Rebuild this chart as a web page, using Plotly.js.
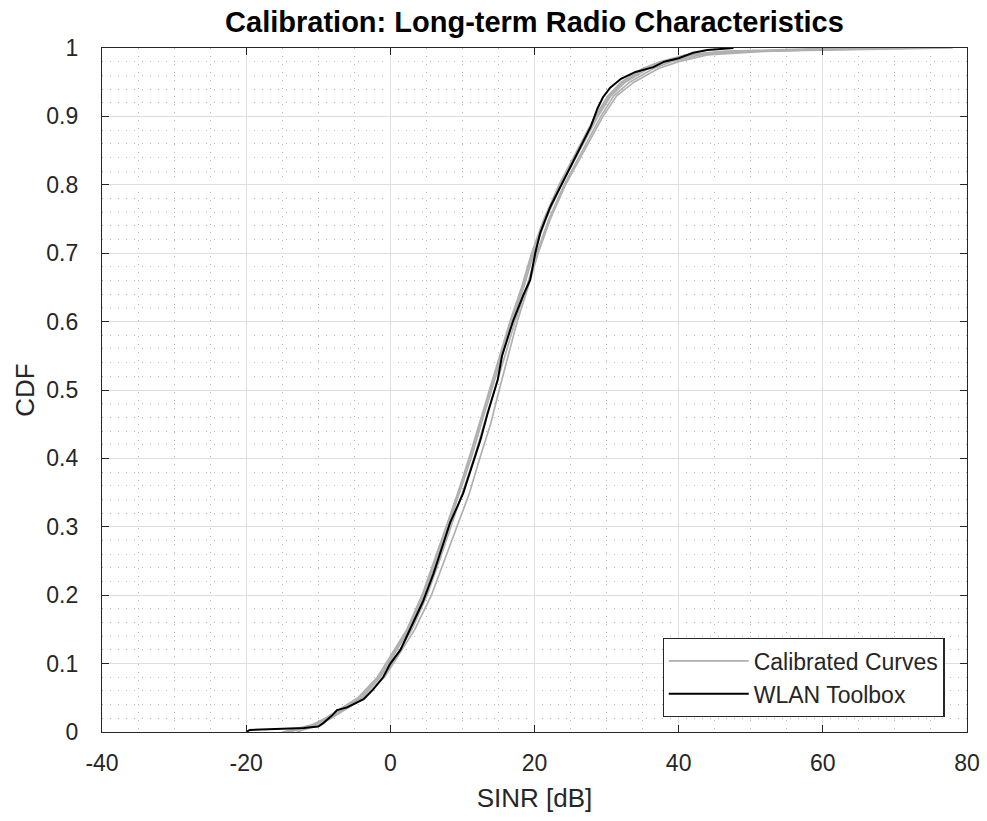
<!DOCTYPE html>
<html>
<head>
<meta charset="utf-8">
<script src="https://cdn.plot.ly/plotly-3.0.1.min.js"></script>
<style>html,body{margin:0;padding:0;background:#fff;}#chart{width:987px;height:821px;}</style>
</head>
<body>
<div id="chart"></div>
<script>
// CDF levels shared by the calibrated curves (quantile form)
const cdfLevels = [0, 0.01, 0.02, 0.03, 0.05, 0.08, 0.1, 0.15, 0.2, 0.25, 0.3, 0.35, 0.4, 0.45, 0.5, 0.55, 0.6, 0.65, 0.7, 0.75, 0.8, 0.85, 0.9, 0.93, 0.95, 0.97, 0.98, 0.99, 0.995, 1];
const calibA = [-15, -11, -9, -7.5, -4.5, -1.8, -0.6, 2.3, 4.4, 6.1, 7.7, 9.4, 10.9, 12.3, 13.8, 15.2, 16.6, 18.2, 19.6, 21.3, 23.4, 25.9, 28.4, 30.2, 32.0, 35.0, 37.5, 41.0, 46, 62];
const calibB = [-14, -10.5, -8.6, -7, -4, -1.4, -0.2, 2.6, 4.7, 6.4, 8.0, 9.7, 11.2, 12.6, 14.1, 15.5, 16.9, 18.5, 19.9, 21.6, 23.7, 26.2, 28.8, 30.6, 32.6, 35.8, 38.2, 42.0, 48, 70];
const calibC = [-13, -10, -8.2, -6.6, -3.6, -1.0, 0.2, 3.0, 5.1, 6.8, 8.4, 10.1, 11.6, 13.0, 14.5, 15.9, 17.3, 18.9, 20.3, 22.0, 24.1, 26.6, 29.2, 31.0, 33.2, 36.5, 39.0, 43.0, 50, 78];
const calibD = [-14.5, -10.8, -8.8, -7.2, -3.8, -0.8, 0.4, 3.4, 5.7, 7.5, 9.2, 11.0, 12.4, 13.9, 15.1, 16.3, 17.6, 19.1, 20.5, 22.2, 24.3, 26.9, 29.5, 31.4, 33.8, 37.2, 40.0, 44.0, 52, 66];
const calibE = [-14.2, -10.7, -8.9, -7.3, -4.3, -1.6, -0.4, 2.4, 4.5, 6.2, 7.8, 9.5, 11.0, 12.4, 13.9, 15.3, 16.7, 18.3, 19.7, 21.4, 23.5, 26.0, 28.6, 30.4, 32.3, 35.4, 37.8, 41.5, 47, 74];
const calibSets = [calibA, calibB, calibC, calibD, calibE];

// WLAN Toolbox curve
const wlanX = [-20, -19.5, -12, -10, -9.3, -8, -7.4, -6, -3.7, -2.4, -1, 0, 1.4, 3.2, 4.5, 6, 7.2, 8.3, 10.1, 11.1, 12.5, 13.5, 14.9, 15.5, 17, 18.5, 19.4, 20.1, 20.8, 22.2, 23.6, 25, 26.4, 27.8, 28.75, 29.5, 30.5, 32, 34, 36.5, 38, 40, 42, 44, 47.6];
const wlanY = [0, 0.003, 0.006, 0.008, 0.013, 0.025, 0.032, 0.036, 0.048, 0.062, 0.08, 0.1, 0.12, 0.16, 0.19, 0.232, 0.27, 0.306, 0.349, 0.383, 0.427, 0.466, 0.515, 0.55, 0.6, 0.64, 0.661, 0.7, 0.73, 0.768, 0.797, 0.826, 0.855, 0.885, 0.912, 0.928, 0.942, 0.955, 0.965, 0.972, 0.98, 0.985, 0.993, 0.997, 1.0];

const xTicks = [-40, -20, 0, 20, 40, 60, 80];
const yTicks = [0, 0.1, 0.2, 0.3, 0.4, 0.5, 0.6, 0.7, 0.8, 0.9, 1];
const seriesNames = ['Calibrated Curves', 'WLAN Toolbox'];

const traces = calibSets.map((xs, i) => ({
  x: xs, y: cdfLevels, type: 'scatter', mode: 'lines',
  name: seriesNames[0], legendgroup: 'cal', showlegend: i === 0,
  line: {color: '#b0b0b0', width: 1.7}
}));
traces.push({
  x: wlanX, y: wlanY, type: 'scatter', mode: 'lines', name: seriesNames[1],
  line: {color: '#000000', width: 2}
});

const FAM = 'Liberation Sans, Arial, sans-serif';
const tickFont = {family: FAM, size: 23, color: '#262626'};
const layout = {
  width: 987, height: 821,
  margin: {l: 102, r: 20, t: 48, b: 89},
  paper_bgcolor: '#ffffff', plot_bgcolor: '#ffffff',
  font: tickFont,
  title: {text: '<b>Calibration: Long-term Radio Characteristics</b>', x: 0.5, xref: 'paper', xanchor: 'center', y: 0.973, yanchor: 'middle',
          font: {family: FAM, size: 29, color: '#000000'}},
  xaxis: {
    range: [-40, 80], tickmode: 'array', tickvals: xTicks, ticktext: xTicks.map(String),
    showline: true, mirror: 'ticks', linecolor: '#262626', linewidth: 1.2,
    ticks: 'inside', ticklen: 7, tickcolor: '#262626', ticklabelstandoff: 10,
    showgrid: true, gridcolor: '#dedede', gridwidth: 1, zeroline: false,
    minor: {dtick: 5, showgrid: true, gridcolor: '#b8b8b8', griddash: '1px,7px', gridwidth: 1, ticks: ''},
    title: {text: 'SINR [dB]', font: {family: FAM, size: 26, color: '#262626'}, standoff: 14},
    tickfont: tickFont
  },
  yaxis: {
    range: [0, 1], tickmode: 'array', tickvals: yTicks, ticktext: yTicks.map(String),
    showline: true, mirror: 'ticks', linecolor: '#262626', linewidth: 1.2,
    ticks: 'inside', ticklen: 7, tickcolor: '#262626', ticklabelstandoff: 18,
    showgrid: true, gridcolor: '#dedede', gridwidth: 1, zeroline: false,
    minor: {dtick: 0.02, showgrid: true, gridcolor: '#b8b8b8', griddash: '1px,7px', gridwidth: 1, ticks: ''},
    title: {text: 'CDF', font: {family: FAM, size: 26, color: '#262626'}, standoff: 4},
    tickfont: tickFont
  },
  legend: {x: 0.974, xanchor: 'right', y: 0.137, yanchor: 'top',
           bgcolor: '#ffffff', bordercolor: '#262626', borderwidth: 1.2,
           font: {family: FAM, size: 23, color: '#262626'},
           itemwidth: 80, tracegroupgap: 0},
  showlegend: true
};

Plotly.newPlot('chart', traces, layout, {displayModeBar: false, staticPlot: true});
</script>
</body>
</html>
